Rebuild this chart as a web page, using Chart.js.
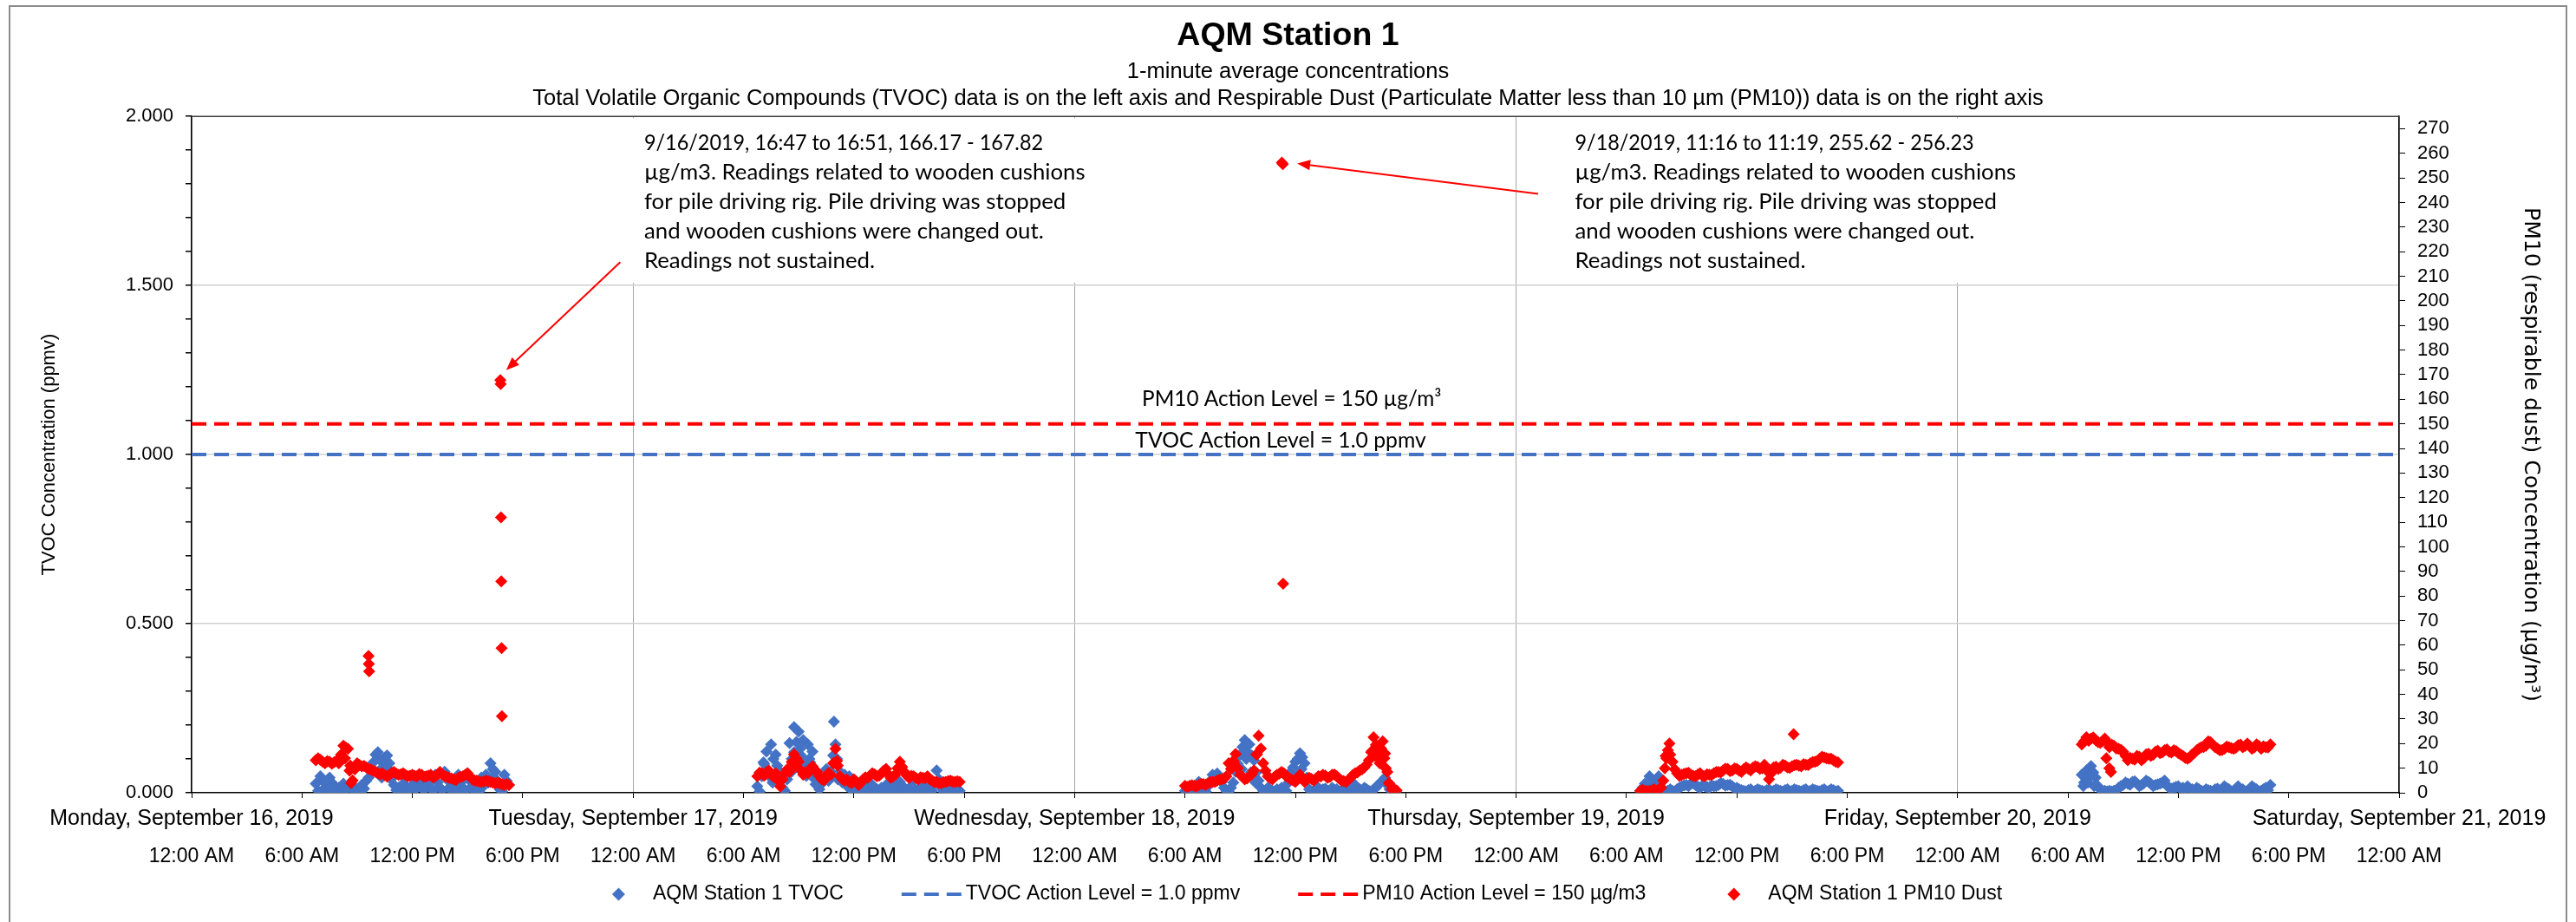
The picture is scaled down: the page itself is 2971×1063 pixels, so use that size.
<!DOCTYPE html>
<html>
<head>
<meta charset="utf-8">
<script src="https://cdn.jsdelivr.net/npm/chart.js@4.4.1/dist/chart.umd.min.js"></script>
<style>
	html, body { margin: 0; padding: 0; background: #fff; overflow: hidden; }
	canvas { display: block; }
</style>
</head>
<body>
<canvas id="aqmChart" width="2971" height="1063"></canvas>
<script>
// tick labels
const dayLabels = [
	'Monday, September 16, 2019',
	'Tuesday, September 17, 2019',
	'Wednesday, September 18, 2019',
	'Thursday, September 19, 2019',
	'Friday, September 20, 2019',
	'Saturday, September 21, 2019',
];
const timeLabels = ['12:00 AM', '6:00 AM', '12:00 PM', '6:00 PM'];

// each day is one run of readings, one value every 7.5 minutes from its start
const runStart = ['9/16 06:45', '9/17 06:45', '9/18 06:00', '9/19 06:45', '9/20 06:45'];
const sampleMinutes = 7.5;

// TVOC (ppmv)
const tvocMon = [0.027, 0.006, 0.049, 0.035, 0.015, 0.004, 0.045, 0.030, 0.019, 0.008, 0.015, 0.004, 0.027, 0.010, 0.015,
	0.025, 0.015, 0.004, 0.010, 0.006, 0.023, 0.012, 0.036, 0.045, 0.062, 0.090, 0.113, 0.120, 0.096, 0.075, 0.104, 0.110,
	0.087, 0.060, 0.023, 0.008, 0.015, 0.004, 0.027, 0.010, 0.015, 0.004, 0.023, 0.010, 0.015, 0.030, 0.049, 0.008, 0.019,
	0.035, 0.015, 0.006, 0.053, 0.030, 0.015, 0.008, 0.062, 0.040, 0.015, 0.006, 0.019, 0.004, 0.053, 0.030, 0.015, 0.006,
	0.057, 0.035, 0.019, 0.006, 0.015, 0.004, 0.045, 0.020, 0.053, 0.030, 0.087, 0.070, 0.062, 0.035, 0.010, 0.004, 0.053,
	0.035, 0.023];
const tvocTue = [0.019, 0.004, 0.049, 0.085, 0.122, 0.050, 0.143, 0.100, 0.113, 0.030, 0.062, 0.015, 0.006, 0.040, 0.147,
	0.100, 0.194, 0.150, 0.181, 0.110, 0.156, 0.070, 0.143, 0.090, 0.122, 0.040, 0.062, 0.010, 0.027, 0.045, 0.070, 0.035,
	0.062, 0.110, 0.143, 0.040, 0.062, 0.030, 0.053, 0.020, 0.049, 0.008, 0.019, 0.012, 0.006, 0.004, 0.015, 0.025, 0.010,
	0.004, 0.023, 0.015, 0.010, 0.004, 0.015, 0.008, 0.023, 0.015, 0.006, 0.020, 0.010, 0.004, 0.032, 0.010, 0.015, 0.004,
	0.010, 0.020, 0.015, 0.004, 0.010, 0.008, 0.019, 0.004, 0.015, 0.012, 0.006, 0.030, 0.066, 0.040, 0.015, 0.004, 0.010,
	0.008, 0.015, 0.004, 0.010, 0.012, 0.006];
const tvocWed = [0.006, 0.010, 0.015, 0.004, 0.006, 0.020, 0.032, 0.012, 0.006, 0.004, 0.019, 0.035, 0.053, 0.040, 0.057,
	0.045, 0.032, 0.015, 0.006, 0.004, 0.015, 0.030, 0.062, 0.085, 0.113, 0.135, 0.156, 0.120, 0.143, 0.110, 0.096, 0.060,
	0.036, 0.015, 0.006, 0.004, 0.015, 0.010, 0.006, 0.004, 0.010, 0.006, 0.015, 0.010, 0.006, 0.030, 0.062, 0.075, 0.092,
	0.100, 0.117, 0.105, 0.087, 0.045, 0.010, 0.004, 0.006, 0.010, 0.015, 0.004, 0.010, 0.012, 0.006, 0.004, 0.015, 0.008,
	0.010, 0.004, 0.006, 0.012, 0.015, 0.004, 0.010, 0.015, 0.023, 0.006, 0.010, 0.004, 0.015, 0.010, 0.006, 0.004, 0.010,
	0.015, 0.023, 0.030, 0.036, 0.045, 0.023, 0.010, 0.015, 0.010, 0.006];
const tvocThu = [0.006, 0.015, 0.027, 0.010, 0.049, 0.020, 0.036, 0.008, 0.049, 0.030, 0.010, 0.004, 0.006, 0.010, 0.006,
	0.004, 0.010, 0.015, 0.019, 0.022, 0.023, 0.020, 0.027, 0.028, 0.023, 0.018, 0.015, 0.021, 0.019, 0.017, 0.015, 0.022,
	0.019, 0.020, 0.023, 0.028, 0.026, 0.021, 0.023, 0.024, 0.019, 0.013, 0.015, 0.010, 0.008, 0.006, 0.004, 0.008, 0.010,
	0.004, 0.006, 0.010, 0.008, 0.006, 0.004, 0.008, 0.010, 0.004, 0.006, 0.010, 0.008, 0.006, 0.004, 0.008, 0.010, 0.004,
	0.006, 0.010, 0.008, 0.006, 0.004, 0.008, 0.010, 0.004, 0.006, 0.010, 0.008, 0.006, 0.004, 0.008, 0.010, 0.004, 0.006,
	0.010, 0.008, 0.004, 0.006];
const tvocFri = [0.053, 0.030, 0.066, 0.045, 0.079, 0.060, 0.045, 0.020, 0.010, 0.004, 0.006, 0.004, 0.006, 0.004, 0.006,
	0.008, 0.015, 0.020, 0.023, 0.030, 0.027, 0.024, 0.032, 0.034, 0.027, 0.020, 0.023, 0.028, 0.036, 0.032, 0.027, 0.020,
	0.023, 0.025, 0.027, 0.030, 0.036, 0.022, 0.015, 0.012, 0.015, 0.017, 0.019, 0.012, 0.015, 0.013, 0.019, 0.012, 0.010,
	0.008, 0.015, 0.010, 0.006, 0.004, 0.010, 0.008, 0.006, 0.004, 0.010, 0.012, 0.006, 0.010, 0.019, 0.014, 0.010, 0.004,
	0.006, 0.012, 0.019, 0.008, 0.010, 0.004, 0.006, 0.010, 0.019, 0.014, 0.010, 0.004, 0.006, 0.010, 0.015, 0.008, 0.023];

// PM10 dust (µg/m3)
const pm10Mon = [13.2, 14.0, 13.4, 12.6, 12.0, 12.9, 12.6, 11.8, 12.4, 13.0, 12.0, 15.5, 19.1, 18.4, 17.9, 11.0, 5.0, 9.5,
	12.0, 11.3, 10.8, 10.9, 10.3, 9.7, 9.4, 8.9, 8.5, 8.0, 7.5, 7.9, 7.1, 6.6, 7.3, 8.0, 8.5, 7.8, 7.3, 7.5, 7.9, 7.2, 6.7,
	7.0, 7.3, 6.9, 6.7, 7.6, 7.3, 6.5, 6.7, 7.0, 7.3, 6.3, 6.7, 7.5, 8.5, 7.4, 6.7, 6.5, 6.1, 5.8, 5.5, 5.2, 6.1, 6.4, 6.7,
	7.3, 7.9, 6.6, 5.5, 5.0, 4.9, 4.6, 4.4, 4.5, 4.9, 4.7, 4.4, 4.1, 3.8, 4.1, 3.8, 3.4, 3.2, 3.5, 3.2];
const pm10Tue = [6.7, 8.2, 7.9, 7.0, 8.5, 9.0, 7.3, 6.5, 7.9, 5.0, 2.6, 5.5, 7.9, 9.5, 8.5, 12.5, 15.6, 14.0, 12.6, 9.0,
	7.3, 8.5, 7.9, 9.0, 10.8, 9.2, 8.5, 6.8, 5.5, 5.0, 6.7, 8.0, 7.3, 12.0, 17.9, 11.0, 6.7, 5.5, 4.9, 5.4, 4.4, 4.0, 5.5,
	4.6, 3.2, 4.0, 5.5, 6.3, 6.1, 7.0, 7.9, 7.5, 6.7, 7.0, 7.9, 9.0, 9.7, 7.5, 6.1, 6.5, 7.3, 10.0, 12.6, 10.5, 8.5, 7.0,
	6.1, 6.9, 6.7, 6.0, 5.5, 6.3, 6.1, 5.9, 6.7, 5.5, 4.9, 4.3, 4.4, 4.0, 3.8, 4.3, 4.4, 4.8, 4.9, 4.5, 4.4, 4.7, 4.4];
const pm10Wed = [2.8, 2.4, 2.8, 3.1, 2.8, 2.6, 3.2, 3.6, 3.5, 3.3, 3.8, 4.3, 4.4, 4.4, 4.9, 5.4, 5.5, 5.8, 6.7, 12.0, 9.7,
	13.0, 15.8, 10.0, 7.3, 6.5, 5.5, 5.8, 6.7, 7.5, 9.1, 15.6, 23.2, 18.0, 12.0, 9.0, 6.7, 6.0, 5.5, 6.5, 7.3, 7.8, 8.5,
	7.9, 6.7, 6.2, 5.5, 5.0, 4.4, 6.0, 7.3, 5.8, 4.4, 5.3, 6.1, 5.6, 4.9, 5.8, 6.7, 6.6, 7.3, 7.0, 6.1, 6.4, 7.3, 7.4, 6.7,
	5.8, 4.9, 4.8, 4.4, 5.2, 6.1, 7.2, 7.9, 8.3, 9.1, 9.5, 10.3, 11.5, 13.2, 16.5, 22.6, 19.5, 16.7, 14.0, 20.9, 16.0, 8.5,
	3.5, 1.4, 1.2, 1.0];
const pm10Thu = [0.8, 1.2, 0.8, 0.6, 0.8, 1.0, 1.4, 0.9, 1.4, 2.0, 4.9, 15.0, 17.3, 15.5, 12.6, 9.5, 7.9, 6.9, 7.3, 7.7,
	7.9, 8.1, 7.3, 6.9, 6.7, 7.4, 7.9, 7.0, 6.7, 7.5, 7.3, 7.2, 7.9, 8.5, 8.5, 8.3, 9.1, 9.8, 9.7, 8.8, 9.1, 9.9, 9.7, 9.0,
	8.5, 9.6, 10.3, 9.7, 9.1, 10.2, 10.8, 10.5, 9.7, 10.0, 11.4, 9.0, 5.5, 8.0, 10.3, 10.6, 9.7, 10.2, 11.4, 11.0, 10.3,
	10.1, 10.8, 11.2, 11.4, 11.0, 10.8, 11.6, 11.4, 11.3, 12.0, 12.5, 12.6, 13.0, 13.8, 14.6, 14.4, 14.0, 13.8, 13.8, 13.2,
	12.6, 12.3];
const pm10Fri = [19.7, 21.0, 22.6, 21.2, 22.0, 22.5, 21.4, 20.6, 20.3, 21.0, 22.0, 20.5, 18.5, 19.6, 19.1, 18.0, 17.9,
	17.5, 16.7, 15.0, 13.2, 14.2, 13.8, 13.5, 15.0, 14.6, 13.2, 14.0, 15.6, 15.9, 15.0, 15.4, 16.7, 17.1, 16.1, 16.4, 17.3,
	17.6, 16.7, 16.4, 17.3, 16.9, 16.1, 15.5, 15.0, 14.2, 13.8, 14.5, 15.6, 16.2, 17.3, 18.0, 18.5, 18.6, 19.1, 20.9, 20.5,
	19.5, 18.5, 18.0, 17.3, 17.4, 17.9, 18.8, 18.5, 18.2, 17.9, 18.3, 19.3, 19.6, 18.5, 19.0, 20.0, 19.0, 17.9, 18.4, 19.7,
	19.0, 17.9, 18.9, 18.5, 18.4, 19.7];

// single readings that stand apart from the runs
const tvocExtraTime = ['9/16 07:05', '9/16 07:20', '9/16 07:35', '9/16 10:05', '9/16 10:20', '9/16 10:35', '9/16 10:50',
	'9/16 12:35', '9/16 16:20', '9/17 07:05', '9/17 07:20', '9/17 07:35', '9/17 07:50', '9/17 08:35', '9/17 08:45',
	'9/17 08:55', '9/17 09:05', '9/17 09:15', '9/17 09:25', '9/17 09:35', '9/17 09:45', '9/17 09:55', '9/17 10:55',
	'9/17 11:05', '9/18 09:05', '9/18 09:20', '9/18 09:35', '9/18 09:50', '9/18 12:05', '9/18 12:20', '9/18 12:35',
	'9/20 06:50', '9/20 07:05', '9/20 07:15', '9/20 07:25'];
const tvocExtraValue = [0.005, 0.035, 0.010, 0.060, 0.045, 0.070, 0.040, 0.020, 0.040, 0.090, 0.060, 0.030, 0.080, 0.060,
	0.120, 0.080, 0.130, 0.090, 0.050, 0.100, 0.060, 0.025, 0.210, 0.100, 0.070, 0.100, 0.060, 0.030, 0.050, 0.070, 0.040,
	0.020, 0.030, 0.050, 0.020];
const pm10ExtraTime = ['9/16 08:20', '9/16 08:35', '9/16 08:40', '9/16 09:37', '9/16 09:38', '9/16 09:39', '9/16 16:47',
	'9/16 16:48', '9/16 16:49', '9/16 16:50', '9/16 16:51', '9/16 16:52', '9/17 08:50', '9/17 10:55', '9/17 11:05',
	'9/17 14:25', '9/18 08:40', '9/18 09:55', '9/18 11:16', '9/18 11:19', '9/18 11:20', '9/18 16:10', '9/18 16:20',
	'9/18 16:25', '9/18 16:35', '9/18 16:40', '9/18 16:50', '9/18 16:55', '9/18 17:05', '9/19 08:05', '9/19 08:10',
	'9/19 08:20', '9/19 15:05', '9/20 08:05', '9/20 08:15', '9/20 08:20'];
const pm10ExtraValue = [14.0, 9.0, 4.0, 55.6, 52.4, 49.4, 167.82, 166.17, 112.0, 86.0, 58.8, 31.1, 11.0, 12.0, 13.0, 10.0,
	12.0, 15.6, 256.23, 255.62, 85.0, 17.0, 15.0, 19.0, 12.0, 18.0, 14.0, 10.0, 4.0, 10.0, 14.0, 20.0, 23.8, 14.0, 10.0, 8.5];

const tvocActionLevel = 1.0;
const pm10ActionLevel = 150;

// hours since Monday 9/16 00:00
function toHours(stamp) {
	const [date, time] = stamp.split(' ');
	const day = Number(date.split('/')[1]) - 16;
	const [h, m] = time.split(':').map(Number);
	return day * 24 + h + m / 60;
}

function buildPoints(runs, extraTime, extraValue) {
	const points = [];
	runs.forEach((values, d) => {
		const start = toHours(runStart[d]);
		values.forEach((v, i) => points.push({ x: start + (i * sampleMinutes) / 60, y: v }));
	});
	extraTime.forEach((t, i) => points.push({ x: toHours(t), y: extraValue[i] }));
	return points;
}

const BLUE = '#4472C4';
const RED = '#FF0000';
const FONT = "'Liberation Sans', Arial, sans-serif";
const NOTE_FONT = "Lato, 'Open Sans', sans-serif";

// text boxes, placed in data units (hours, ppmv)
const notes = [
	{
		lines: ['9/16/2019, 16:47 to 16:51, 166.17 - 167.82', 'µg/m3. Readings related to wooden cushions',
			'for pile driving rig. Pile driving was stopped', 'and wooden cushions were changed out.', 'Readings not sustained.'],
		x: 24.6, y: 1.923, arrowFrom: [23.3, 1.569], arrowTo: [17.1, 1.25],
	},
	{
		lines: ['9/18/2019, 11:16 to 11:19, 255.62 - 256.23', 'µg/m3. Readings related to wooden cushions',
			'for pile driving rig. Pile driving was stopped', 'and wooden cushions were changed out.', 'Readings not sustained.'],
		x: 75.2, y: 1.923, arrowFrom: [73.2, 1.771], arrowTo: [60.1, 1.861],
	},
];

// Lato figures run wider than the original's; squeeze digit-heavy text back
function noteText(ctx, text, x, y, size) {
	const digits = (text.match(/\d/g) || []).length;
	const w = ctx.measureText(text).width;
	ctx.fillText(text, x, y, w - digits * 0.073 * size);
}

Chart.defaults.font.family = FONT;
Chart.defaults.color = '#000';

// setup block
const data = {
	datasets: [
		{
			label: 'AQM Station 1 PM10 Dust',
			data: buildPoints([pm10Mon, pm10Tue, pm10Wed, pm10Thu, pm10Fri], pm10ExtraTime, pm10ExtraValue),
			yAxisID: 'y2',
			backgroundColor: RED,
			borderColor: RED,
			pointStyle: 'rectRot',
			pointRadius: 7,
			pointBorderWidth: 0,
			order: 0,
		},
		{
			label: 'AQM Station 1 TVOC',
			data: buildPoints([tvocMon, tvocTue, tvocWed, tvocThu, tvocFri], tvocExtraTime, tvocExtraValue),
			yAxisID: 'y',
			backgroundColor: BLUE,
			borderColor: BLUE,
			pointStyle: 'rectRot',
			pointRadius: 7,
			pointBorderWidth: 0,
			order: 1,
		},
		{
			type: 'line',
			label: 'TVOC Action Level = 1.0 ppmv',
			data: [{ x: 0, y: tvocActionLevel }, { x: 120, y: tvocActionLevel }],
			yAxisID: 'y',
			borderColor: BLUE,
			borderWidth: 4,
			borderDash: [17, 9],
			pointRadius: 0,
			showLine: true,
			fill: false,
			order: 2,
		},
		{
			type: 'line',
			label: 'PM10 Action Level = 150 µg/m3',
			data: [{ x: 0, y: pm10ActionLevel }, { x: 120, y: pm10ActionLevel }],
			yAxisID: 'y2',
			borderColor: RED,
			borderWidth: 4,
			borderDash: [17, 9],
			pointRadius: 0,
			showLine: true,
			fill: false,
			order: 2,
		},
	],
};
const legendOrder = [1, 2, 3, 0];

const isMidnight = (v) => Math.abs(v / 24 - Math.round(v / 24)) < 1e-6;
const isHalf = (v) => Math.abs(v * 2 - Math.round(v * 2)) < 1e-6;

// frame, legend, notes and level labels
const decorations = {
	id: 'decorations',
	beforeDraw(chart) {
		const { ctx } = chart;
		ctx.save();
		ctx.fillStyle = '#fff';
		ctx.fillRect(0, 0, chart.width, chart.height);
		ctx.restore();
	},
	afterDraw(chart) {
		const { ctx, chartArea: area, scales } = chart;
		ctx.save();

		// outer frame
		ctx.strokeStyle = '#8c8c8c';
		ctx.lineWidth = 2;
		ctx.strokeRect(11, 7, 2949, 1100);

		// action level labels
		ctx.font = `25px ${NOTE_FONT}`;
		ctx.fillStyle = '#000';
		ctx.textAlign = 'center';
		ctx.textBaseline = 'alphabetic';
		noteText(ctx, 'PM10 Action Level = 150 µg/m³', scales.x.getPixelForValue(59.8), scales.y2.getPixelForValue(pm10ActionLevel) - 21, 25);
		noteText(ctx, 'TVOC Action Level = 1.0 ppmv', scales.x.getPixelForValue(59.2), scales.y.getPixelForValue(tvocActionLevel) - 8, 25);

		// notes in white boxes, with arrows
		notes.forEach((note) => {
			const size = 25.8;
			ctx.font = `${size}px ${NOTE_FONT}`;
			ctx.textAlign = 'left';
			ctx.textBaseline = 'middle';
			const x0 = scales.x.getPixelForValue(note.x);
			const y0 = scales.y.getPixelForValue(note.y);
			const widest = Math.max(...note.lines.map((l) => ctx.measureText(l).width));
			const lastY = y0 + (note.lines.length - 1) * 34.2;
			const boxTop = Math.max(y0 - 28, area.top + 1.5);
			ctx.fillStyle = '#fff';
			ctx.fillRect(x0 - 18, boxTop, widest + 33, lastY + 25 - boxTop);
			ctx.fillStyle = '#000';
			note.lines.forEach((line, i) => noteText(ctx, line, x0, y0 + i * 34.2, size));

			const ax = scales.x.getPixelForValue(note.arrowFrom[0]);
			const ay = scales.y.getPixelForValue(note.arrowFrom[1]);
			const bx = scales.x.getPixelForValue(note.arrowTo[0]);
			const by = scales.y.getPixelForValue(note.arrowTo[1]);
			const ang = Math.atan2(by - ay, bx - ax);
			ctx.strokeStyle = RED;
			ctx.fillStyle = RED;
			ctx.lineWidth = 2;
			ctx.beginPath();
			ctx.moveTo(ax, ay);
			ctx.lineTo(bx - Math.cos(ang) * 10, by - Math.sin(ang) * 10);
			ctx.stroke();
			ctx.beginPath();
			ctx.moveTo(bx, by);
			ctx.lineTo(bx - Math.cos(ang) * 15 + Math.sin(ang) * 6, by - Math.sin(ang) * 15 - Math.cos(ang) * 6);
			ctx.lineTo(bx - Math.cos(ang) * 15 - Math.sin(ang) * 6, by - Math.sin(ang) * 15 + Math.cos(ang) * 6);
			ctx.closePath();
			ctx.fill();
		});

		// top edge of the plot area
		ctx.strokeStyle = '#404040';
		ctx.lineWidth = 1.5;
		ctx.beginPath();
		ctx.moveTo(area.left, area.top);
		ctx.lineTo(area.right, area.top);
		ctx.stroke();

		// legend
		ctx.font = `23px ${FONT}`;
		ctx.textAlign = 'left';
		ctx.textBaseline = 'middle';
		const symbolW = 69;
		const widths = legendOrder.map((i) => symbolW + 5 + ctx.measureText(chart.data.datasets[i].label).width);
		const total = widths.reduce((a, b) => a + b, 0) + 67 * (widths.length - 1);
		let lx = (area.left + area.right) / 2 - total / 2;
		const ly = 1031;
		legendOrder.forEach((i, k) => {
			const ds = chart.data.datasets[i];
			if (ds.showLine) {
				ctx.strokeStyle = ds.borderColor;
				ctx.lineWidth = 4;
				ctx.setLineDash([17, 9]);
				ctx.beginPath();
				ctx.moveTo(lx, ly);
				ctx.lineTo(lx + symbolW, ly);
				ctx.stroke();
				ctx.setLineDash([]);
			} else {
				const cx = lx + symbolW / 2;
				ctx.fillStyle = ds.backgroundColor;
				ctx.beginPath();
				ctx.moveTo(cx - 7.5, ly);
				ctx.lineTo(cx, ly - 7.5);
				ctx.lineTo(cx + 7.5, ly);
				ctx.lineTo(cx, ly + 7.5);
				ctx.closePath();
				ctx.fill();
			}
			ctx.fillStyle = '#000';
			ctx.fillText(ds.label, lx + symbolW + 5, ly);
			lx += widths[k] + 67;
		});
		ctx.restore();
	},
};

// config block
const config = {
	type: 'scatter',
	data,
	options: {
		responsive: false,
		animation: false,
		layout: { padding: { top: 0, left: 0, right: 0, bottom: 59 } },
		plugins: {
			legend: { display: false },
			tooltip: { enabled: false },
			title: {
				display: true,
				text: 'AQM Station 1',
				color: '#000',
				font: { size: 37.5, weight: 'bold', lineHeight: 1.2 },
				padding: { top: 19, bottom: 0 },
			},
			subtitle: {
				display: true,
				text: [
					'1-minute average concentrations',
					'Total Volatile Organic Compounds (TVOC) data is on the left axis and Respirable Dust (Particulate Matter less than 10 µm (PM10)) data is on the right axis',
				],
				color: '#000',
				font: { size: 25.5, lineHeight: 1.22 },
				padding: { top: 3, bottom: 5 },
			},
		},
		scales: {
			x: {
				type: 'linear',
				position: 'bottom',
				min: 0,
				max: 120,
				ticks: {
					stepSize: 6,
					autoSkip: false,
					maxRotation: 0,
					minRotation: 0,
					padding: 9,
					font: { size: 25 },
					callback: (v) => (isMidnight(v) ? dayLabels[Math.round(v / 24)] : ''),
				},
				grid: {
					color: (c) => (c.tick && isMidnight(c.tick.value) ? '#A6A6A6' : 'rgba(0,0,0,0)'),
					tickColor: '#000',
					tickLength: 6,
					lineWidth: 1,
				},
				border: { color: '#000', width: 1.5 },
				afterFit: (s) => { s.height = 50; },
			},
			xTime: {
				type: 'linear',
				position: 'bottom',
				min: 0,
				max: 120,
				ticks: {
					stepSize: 6,
					autoSkip: false,
					maxRotation: 0,
					minRotation: 0,
					padding: 2,
					font: { size: 23 },
					callback: (v) => timeLabels[Math.round(v / 6) % 4],
				},
				grid: { display: false },
				border: { display: false },
				afterFit: (s) => { s.height = 40; },
			},
			y: {
				position: 'left',
				min: 0,
				max: 2,
				ticks: {
					stepSize: 0.1,
					autoSkip: false,
					padding: 14,
					font: { size: 22 },
					callback: (v) => (isHalf(v) ? v.toFixed(3) : ''),
				},
				grid: {
					color: (c) => (c.tick && isHalf(c.tick.value) && c.tick.value > 0 && c.tick.value < 2 ? '#D0D0D0' : 'rgba(0,0,0,0)'),
					lineWidth: 1.5,
					tickColor: '#000',
					tickLength: 7,
				},
				border: { color: '#000', width: 1.5 },
				title: {
					display: true,
					text: 'TVOC Concentration (ppmv)',
					color: '#000',
					font: { size: 22 },
					padding: { top: 43.8, bottom: 0 },
				},
				afterFit: (s) => { s.width = 221; },
			},
			y2: {
				position: 'right',
				min: 0,
				max: 275,
				ticks: {
					stepSize: 10,
					includeBounds: false,
					autoSkip: false,
					padding: 14,
					font: { size: 22 },
				},
				grid: {
					drawOnChartArea: false,
					tickColor: '#000',
					tickLength: 7,
				},
				border: { color: '#000', width: 1.5 },
				title: {
					display: true,
					text: 'PM10 (respirable dust) Concentration (µg/m³)',
					color: '#000',
					font: { size: 25, family: "'DejaVu Sans', Verdana, sans-serif" },
					padding: { top: 38, bottom: 0 },
				},
				afterFit: (s) => { s.width = 204; },
			},
		},
	},
	plugins: [decorations],
};

// render / init block
const aqmChart = new Chart(document.getElementById('aqmChart'), config);
</script>
</body>
</html>
